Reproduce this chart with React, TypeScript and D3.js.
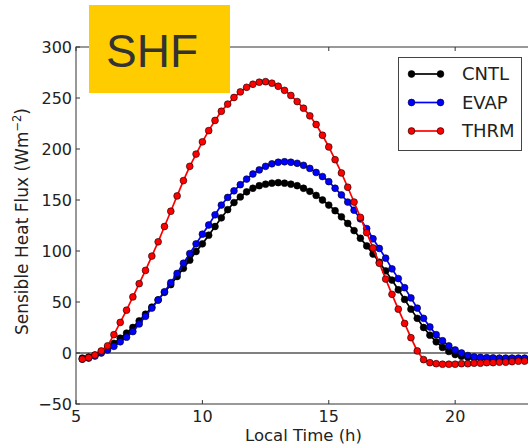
import React from "react";
import * as d3 from "d3";

const times: number[] = [
  5.25, 5.5, 5.75,
  6, 6.25, 6.5, 6.75,
  7, 7.25, 7.5, 7.75,
  8, 8.25, 8.5, 8.75,
  9, 9.25, 9.5, 9.75,
  10, 10.25, 10.5, 10.75,
  11, 11.25, 11.5, 11.75,
  12, 12.25, 12.5, 12.75,
  13, 13.25, 13.5, 13.75,
  14, 14.25, 14.5, 14.75,
  15, 15.25, 15.5, 15.75,
  16, 16.25, 16.5, 16.75,
  17, 17.25, 17.5, 17.75,
  18, 18.25, 18.5, 18.75,
  19, 19.25, 19.5, 19.75,
  20, 20.25, 20.5, 20.75,
  21, 21.25, 21.5, 21.75,
  22, 22.25, 22.5, 22.75,
];

const cntl: number[] = [
  -5, -4, -2,
  1, 5, 9.5, 14.5,
  19.5, 25, 31.5, 38,
  45, 52, 59.5, 67,
  75, 83, 91, 99.5,
  107, 115.5, 124, 132.5,
  140.5, 147.5, 153, 158,
  161.5, 164, 165.5, 166.5,
  167, 166.5, 165.5, 164,
  161.5, 158.5, 154.5, 150,
  145, 139.5, 133.5, 127,
  120, 112.5, 105, 97,
  89, 80.5, 71.5, 62,
  52.5, 43, 34, 25,
  17.5, 11, 5.5, 1.5,
  -1.5, -3.2, -4.2, -4.7,
  -5, -5.3, -5.5, -5.5,
  -5.5, -5.5, -5.5, -5.5,
];

const evap: number[] = [
  -6, -5, -3,
  0, 3, 6.5, 11,
  15.5, 21, 28.5, 36,
  44, 52, 60, 69,
  78, 88, 97.5, 107,
  116.5, 125.5, 135.5, 145,
  152.5, 159, 165, 170.5,
  175.5, 179.5, 183, 185.5,
  187, 187.5, 187, 186,
  184, 181, 177, 173,
  168, 161.5, 155, 148,
  140, 131.5, 122, 112,
  102.5, 93, 82.5, 73,
  64, 54, 44, 34,
  25.5, 18, 12, 7,
  3, 0, -2.5, -3.8,
  -4.3, -4.6, -4.8, -5,
  -5, -5, -5, -5,
];

const thrm: number[] = [
  -6, -4.5, -2,
  2, 7, 18, 30,
  42, 55, 68, 81,
  95, 109, 124, 139,
  154, 169, 183, 195,
  207, 218, 228, 237,
  244, 250.5, 256, 260.5,
  263.5, 265.5, 266, 264.5,
  261.5, 257.5, 252.5, 246.5,
  240, 232.5, 224, 213.5,
  202, 189.5, 176.5, 162.5,
  148, 133, 118, 103,
  88, 72.5, 57.5, 43,
  29, 15, 2, -6.5,
  -9.5, -10.5, -11, -11,
  -11, -10.5, -10.5, -10,
  -10, -9.5, -9.5, -9,
  -9, -8.5, -8, -8,
];

const seriesNames = ["CNTL", "EVAP", "THRM"];
const seriesColors = ["#000000", "#0000ff", "#ff0000"];
const seriesValues = [cntl, evap, thrm];

const xTicks = [5, 10, 15, 20];
const yTicks = [-50, 0, 50, 100, 150, 200, 250, 300];

const W = 528;
const H = 446;
const left = 76;
const right = 531;
const top = 47;
const bottom = 404;

export default function App() {
  const x = d3.scaleLinear().domain([5, 23]).range([left, right]);
  const y = d3.scaleLinear().domain([-50, 300]).range([bottom, top]);
  const line = d3
    .line<[number, number]>()
    .x((d) => x(d[0]))
    .y((d) => y(d[1]));

  const font = "'DejaVu Sans', sans-serif";
  const txt = "#222";
  const spine = "#333";
  const fmt = (v: number) => (v < 0 ? "\u2212" + Math.abs(v) : String(v));

  return (
    <div style={{ position: "fixed", left: 0, top: 0 }}>
      <svg width={W} height={H} style={{ display: "block", background: "#fff" }}>
        <defs>
          <clipPath id="plot">
            <rect x={left} y={top - 5} width={right - left} height={bottom - top + 10} />
          </clipPath>
        </defs>
        {/* zero line */}
        <line x1={left} x2={right} y1={y(0)} y2={y(0)} stroke="#808080" strokeWidth={2} />

        {/* series */}
        <g clipPath="url(#plot)">
          {seriesValues.map((vals, si) => {
            const pts = times.map((t, i) => [t, vals[i]] as [number, number]);
            return (
              <g key={seriesNames[si]}>
                <path d={line(pts) || ""} fill="none" stroke={seriesColors[si]} strokeWidth={1.7} />
                {pts.map((p, i) => (
                  <circle
                    key={i}
                    cx={x(p[0])}
                    cy={y(p[1])}
                    r={3.4}
                    fill={seriesColors[si]}
                    stroke="#000"
                    strokeWidth={0.6}
                  />
                ))}
              </g>
            );
          })}
        </g>

        {/* spines */}
        <rect x={left} y={top} width={right - left} height={bottom - top} fill="none" stroke={spine} strokeWidth={1} />

        {/* x ticks */}
        {xTicks.map((t) => (
          <g key={"x" + t}>
            <line x1={x(t)} x2={x(t)} y1={bottom} y2={bottom - 4} stroke={spine} />
            <line x1={x(t)} x2={x(t)} y1={top} y2={top + 4} stroke={spine} />
            <text x={x(t)} y={421.5} textAnchor="middle" fontFamily={font} fontSize={16} fill={txt}>
              {fmt(t)}
            </text>
          </g>
        ))}
        {/* y ticks */}
        {yTicks.map((v) => (
          <g key={"y" + v}>
            <line x1={left} x2={left + 4} y1={y(v)} y2={y(v)} stroke={spine} />
            <text x={left - 4} y={y(v)} dy="0.36em" textAnchor="end" fontFamily={font} fontSize={16} fill={txt}>
              {fmt(v)}
            </text>
          </g>
        ))}

        {/* axis labels */}
        <text x={(left + right) / 2} y={440.5} textAnchor="middle" fontFamily={font} fontSize={16.5} fill={txt}>
          Local Time (h)
        </text>
        <text
          transform={`translate(28, ${(top + bottom) / 2 - 4}) rotate(-90)`}
          textAnchor="middle"
          fontFamily={font}
          fontSize={17}
          fill={txt}
        >
          Sensible Heat Flux (Wm
          <tspan dy={-7} fontSize={11.5}>{"\u22122"}</tspan>
          <tspan dy={7}>)</tspan>
        </text>

        {/* legend */}
        <rect x={398.5} y={57.5} width={123} height={93} fill="#fff" stroke="#444" strokeWidth={1} />
        {seriesNames.map((n, i) => {
          const ly = 74 + i * 28.5;
          return (
            <g key={"lg" + n}>
              <line x1={411.5} x2={440.5} y1={ly} y2={ly} stroke={seriesColors[i]} strokeWidth={1.7} />
              <circle cx={411.5} cy={ly} r={3.4} fill={seriesColors[i]} stroke="#000" strokeWidth={0.6} />
              <circle cx={440.5} cy={ly} r={3.4} fill={seriesColors[i]} stroke="#000" strokeWidth={0.6} />
              <text x={462} y={ly} dy="0.36em" fontFamily={font} fontSize={18} fill={txt}>
                {n}
              </text>
            </g>
          );
        })}

        {/* SHF label box */}
        <rect x={89} y={5} width={141} height={88} fill="#ffcc00" />
        <text x={106} y={67} fontFamily="'Liberation Sans', Arial, sans-serif" fontSize={46} fill="#333">
          SHF
        </text>
      </svg>
    </div>
  );
}
